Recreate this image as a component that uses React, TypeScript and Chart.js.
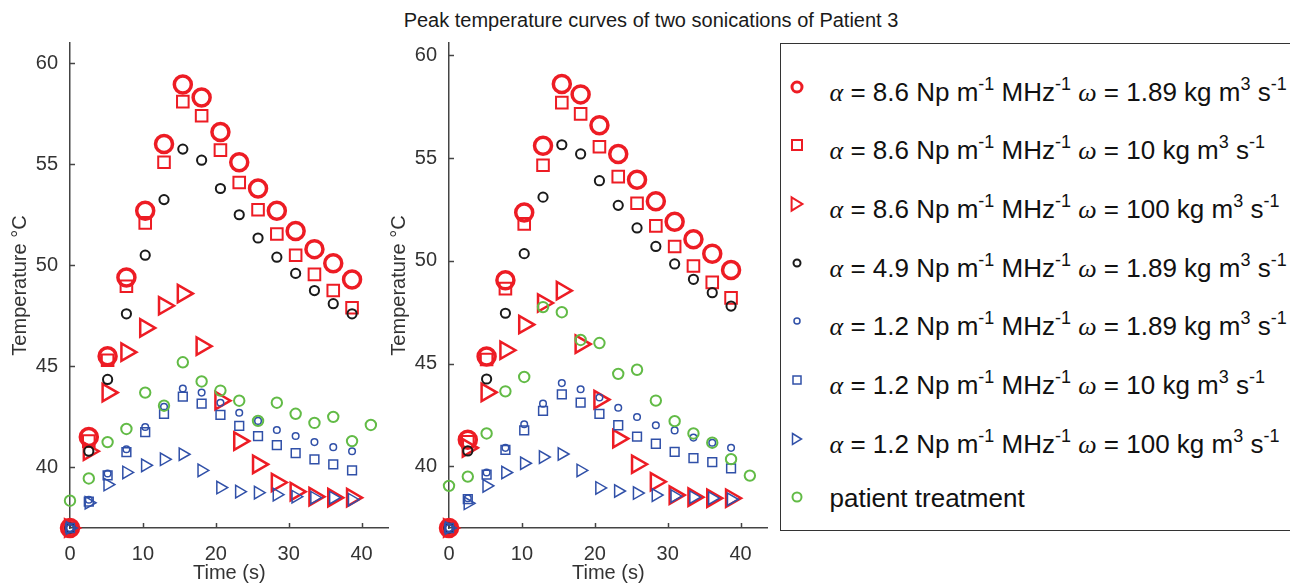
import React, { useEffect, useRef } from 'react';
import { Chart, registerables } from 'chart.js';

Chart.register(...registerables);

// ---------------- data ----------------
const times = [0, 2.58, 5.16, 7.74, 10.32, 12.9, 15.48, 18.06, 20.64, 23.22, 25.8, 28.38, 30.96, 33.54, 36.12, 38.7, 41.28];
const xTicks = [0, 10, 20, 30, 40];
const yTicks = [40, 45, 50, 55, 60];

const seriesLabels = [
  'α = 8.6 Np m-1 MHz-1 ω = 1.89 kg m3 s-1',
  'α = 8.6 Np m-1 MHz-1 ω = 10 kg m3 s-1',
  'α = 8.6 Np m-1 MHz-1 ω = 100 kg m3 s-1',
  'α = 4.9 Np m-1 MHz-1 ω = 1.89 kg m3 s-1',
  'α = 1.2 Np m-1 MHz-1 ω = 1.89 kg m3 s-1',
  'α = 1.2 Np m-1 MHz-1 ω = 10 kg m3 s-1',
  'α = 1.2 Np m-1 MHz-1 ω = 100 kg m3 s-1',
  'patient treatment',
];
const alphaValues = ['8.6', '8.6', '8.6', '4.9', '1.2', '1.2', '1.2'];
const omegaValues = ['1.89', '10', '100', '1.89', '1.89', '10', '100'];

// sonication 1 (left)
const leftRedCircle = [37.0, 41.5, 45.5, 49.4, 52.7, 56.0, 58.95, 58.3, 56.6, 55.1, 53.8, 52.7, 51.7, 50.8, 50.1, 49.3];
const leftRedSquare = [37.0, 41.3, 45.3, 48.96, 52.1, 55.1, 58.1, 57.4, 55.7, 54.1, 52.75, 51.55, 50.5, 49.55, 48.75, 47.9];
const leftRedTriangle = [37.0, 40.8, 43.7, 45.7, 46.9, 48.0, 48.6, 46.0, 43.3, 41.3, 40.15, 39.25, 38.8, 38.55, 38.5, 38.5];
const leftBlack = [37.0, 40.8, 44.35, 47.6, 50.5, 53.25, 55.75, 55.2, 53.8, 52.5, 51.35, 50.4, 49.6, 48.75, 48.1, 47.6];
const leftBlueCircle = [37.0, 38.4, 39.7, 40.9, 42.0, 43.0, 43.9, 43.7, 43.2, 42.7, 42.3, 41.85, 41.55, 41.25, 41.0, 40.8];
const leftBlueSquare = [37.0, 38.3, 39.6, 40.75, 41.75, 42.65, 43.5, 43.15, 42.6, 42.05, 41.55, 41.1, 40.7, 40.4, 40.15, 39.85];
const leftBlueTriangle = [37.0, 38.25, 39.15, 39.75, 40.1, 40.4, 40.65, 39.85, 39.0, 38.8, 38.75, 38.65, 38.55, 38.5, 38.5, 38.4];
const leftPatient = [38.35, 39.45, 41.25, 41.9, 43.7, 43.05, 45.2, 44.25, 43.8, 43.3, 42.3, 43.2, 42.65, 42.2, 42.5, 41.3, 42.1];

// sonication 2 (right)
const rightRedCircle = [37.0, 41.3, 45.35, 49.05, 52.35, 55.6, 58.6, 58.1, 56.6, 55.2, 53.95, 52.9, 51.9, 51.05, 50.35, 49.55];
const rightRedSquare = [37.0, 41.2, 45.2, 48.65, 51.8, 54.65, 57.7, 57.15, 55.55, 54.1, 52.8, 51.7, 50.7, 49.75, 48.95, 48.2];
const rightRedTriangle = [37.0, 40.9, 43.6, 45.65, 46.9, 47.95, 48.55, 45.95, 43.25, 41.35, 40.1, 39.25, 38.6, 38.5, 38.45, 38.45];
const rightBlack = [37.0, 40.75, 44.25, 47.45, 50.35, 53.1, 55.65, 55.2, 53.9, 52.7, 51.6, 50.7, 49.85, 49.1, 48.45, 47.8];
const rightBlueCircle = [37.0, 38.45, 39.7, 40.9, 42.05, 43.05, 44.05, 43.75, 43.35, 42.85, 42.4, 42.0, 41.75, 41.4, 41.15, 40.9];
const rightBlueSquare = [37.0, 38.4, 39.6, 40.8, 41.75, 42.7, 43.5, 43.1, 42.55, 42.0, 41.45, 41.1, 40.7, 40.4, 40.2, 39.9];
const rightBlueTriangle = [37.0, 38.2, 39.05, 39.7, 40.15, 40.45, 40.6, 39.8, 38.95, 38.8, 38.7, 38.6, 38.55, 38.5, 38.45, 38.4];
const rightPatient = [39.05, 39.5, 41.6, 43.65, 44.35, 47.75, 47.5, 46.15, 46.0, 44.5, 44.7, 43.2, 42.2, 41.6, 41.15, 40.35, 39.55];

const leftSeries = [leftRedCircle, leftRedSquare, leftRedTriangle, leftBlack, leftBlueCircle, leftBlueSquare, leftBlueTriangle, leftPatient];
const rightSeries = [rightRedCircle, rightRedSquare, rightRedTriangle, rightBlack, rightBlueCircle, rightBlueSquare, rightBlueTriangle, rightPatient];

// ---------------- styles ----------------
const RED = '#ED1C24';
const BLACK = '#1a1a1a';
const BLUE = '#3050A8';
const GREEN = '#62BB46';
const AXIS = '#444444';
const TEXT = '#333333';
const FONT = "'Liberation Sans', Arial, Helvetica, sans-serif";

type MarkerStyle = { color: string; shape: 'circle' | 'rect' | 'triangle'; radius: number; lw: number };
const markerStyles: MarkerStyle[] = [
  { color: RED, shape: 'circle', radius: 8.5, lw: 3.5 },
  { color: RED, shape: 'rect', radius: 8.2, lw: 2 },
  { color: RED, shape: 'triangle', radius: 10, lw: 2.5 },
  { color: BLACK, shape: 'circle', radius: 4.6, lw: 2 },
  { color: BLUE, shape: 'circle', radius: 3.3, lw: 1.5 },
  { color: BLUE, shape: 'rect', radius: 6.2, lw: 1.5 },
  { color: BLUE, shape: 'triangle', radius: 7.2, lw: 1.5 },
  { color: GREEN, shape: 'circle', radius: 5.2, lw: 2 },
];

const innerTicks = {
  id: 'innerTicks',
  beforeDatasetsDraw(chart: any) {
    const { ctx, chartArea, scales } = chart;
    ctx.save();
    ctx.strokeStyle = AXIS;
    ctx.lineWidth = 1.5;
    scales.x.ticks.forEach((t: any) => {
      const px = Math.round(scales.x.getPixelForValue(t.value)) + 0.5;
      ctx.beginPath();
      ctx.moveTo(px, chartArea.bottom);
      ctx.lineTo(px, chartArea.bottom - 5);
      ctx.stroke();
    });
    scales.y.ticks.forEach((t: any) => {
      const py = Math.round(scales.y.getPixelForValue(t.value)) + 0.5;
      ctx.beginPath();
      ctx.moveTo(chartArea.left, py);
      ctx.lineTo(chartArea.left + 5, py);
      ctx.stroke();
    });
    ctx.restore();
  },
};

function PlotChart({ series, yMax, left }: { series: number[][]; yMax: number; left: number }) {
  const ref = useRef<HTMLCanvasElement | null>(null);
  useEffect(() => {
    if (!ref.current) return;
    const datasets = series.map((vals, i) => {
      const st = markerStyles[i];
      return {
        label: seriesLabels[i],
        data: vals.map((y, j) => ({ x: times[j], y })),
        showLine: false,
        pointStyle: st.shape,
        pointRadius: st.radius,
        pointBorderWidth: st.lw,
        pointBorderColor: st.color,
        pointBackgroundColor: 'rgba(0,0,0,0)',
        pointRotation: st.shape === 'triangle' ? 90 : 0,
        clip: false as any,
        order: 20 - i,
      };
    });
    const chart = new Chart(ref.current, {
      type: 'scatter',
      data: { datasets },
      options: {
        responsive: false,
        animation: false,
        events: [],
        layout: { padding: { top: 43, right: 9, left: 0, bottom: 0 } },
        plugins: { legend: { display: false }, tooltip: { enabled: false }, title: { display: false } },
        scales: {
          x: {
            type: 'linear',
            min: 0,
            max: 43.7,
            afterBuildTicks: (s: any) => { s.ticks = xTicks.map((v) => ({ value: v })); },
            afterFit: (s: any) => { s.height = 57; },
            grid: { display: false, drawTicks: false },
            border: { display: true, color: AXIS, width: 1.5 },
            ticks: { color: TEXT, font: { size: 20, family: FONT }, padding: 14, maxRotation: 0 },
            title: { display: true, text: 'Time (s)', color: TEXT, font: { size: 20, family: FONT }, padding: { top: 0, bottom: 0 } },
          },
          y: {
            type: 'linear',
            min: 37,
            max: yMax,
            afterBuildTicks: (s: any) => { s.ticks = yTicks.map((v) => ({ value: v })); },
            afterFit: (s: any) => { s.width = 70; },
            grid: { display: false, drawTicks: false },
            border: { display: true, color: AXIS, width: 1.5 },
            ticks: { color: TEXT, font: { size: 20, family: FONT }, padding: 12 },
            title: { display: true, text: 'Temperature °C', color: TEXT, font: { size: 20, family: FONT }, padding: { top: 8, bottom: 0 } },
          },
        },
      },
      plugins: [innerTicks],
    } as any);
    return () => chart.destroy();
  }, [series, yMax]);
  return (
    <canvas
      ref={ref}
      width={401}
      height={585}
      style={{ position: 'absolute', left, top: 0, width: 401, height: 585 }}
    />
  );
}

const legendMarkers: { w: number; h: number }[] = [
  { w: 5, h: 3 }, { w: 10, h: 2 }, { w: 12, h: 2 }, { w: 3.5, h: 2 },
  { w: 3, h: 1.5 }, { w: 8, h: 1.5 }, { w: 10, h: 1.5 }, { w: 4.5, h: 2 },
];

function LegendMarker({ i }: { i: number }) {
  const st = markerStyles[i];
  const size = legendMarkers[i].w;
  const lw = legendMarkers[i].h;
  let shape;
  if (st.shape === 'circle') {
    shape = <circle cx={12} cy={12} r={size} fill="none" stroke={st.color} strokeWidth={lw} />;
  } else if (st.shape === 'rect') {
    shape = <rect x={12 - size / 2} y={12 - size / 2} width={size} height={size} fill="none" stroke={st.color} strokeWidth={lw} />;
  } else {
    const hw = size * 0.45;
    const hh = size * 0.55;
    shape = (
      <polygon
        points={`${12 - hw},${12 - hh} ${12 + hw},12 ${12 - hw},${12 + hh}`}
        fill="none"
        stroke={st.color}
        strokeWidth={lw}
        strokeLinejoin="miter"
      />
    );
  }
  return (
    <svg width={24} height={24} style={{ position: 'absolute', left: -12, top: -12 }}>
      {shape}
    </svg>
  );
}

const supStyle: React.CSSProperties = { fontSize: 18, position: 'relative', top: -11, lineHeight: 0 };
const greek: React.CSSProperties = { fontFamily: "'Liberation Serif', 'DejaVu Serif', serif", fontStyle: 'italic' };

function LegendText({ i }: { i: number }) {
  if (i >= alphaValues.length) return <span>{seriesLabels[i]}</span>;
  return (
    <span>
      <span style={greek}>α</span> = {alphaValues[i]} Np m<span style={supStyle}>-1</span> MHz<span style={supStyle}>-1</span>{' '}
      <span style={greek}>ω</span> = {omegaValues[i]} kg m<span style={supStyle}>3</span> s<span style={supStyle}>-1</span>
    </span>
  );
}

function Legend() {
  const rowCenters = seriesLabels.map((_, i) => 87 + 58.7 * i);
  return (
    <div
      style={{
        position: 'absolute',
        left: 780,
        top: 43,
        width: 530,
        height: 486,
        border: '1.5px solid #333',
        background: '#fff',
      }}
    >
      {rowCenters.map((cy, i) => {
        const base = cy + (i < 7 ? 14 : 10);
        return (
          <React.Fragment key={i}>
            <div style={{ position: 'absolute', left: 797 - 781.5, top: cy - 44.5, width: 0, height: 0 }}>
              <LegendMarker i={i} />
            </div>
            <div
              style={{
                position: 'absolute',
                left: 830 - 781.5,
                top: base - 44.5 - 22,
                fontSize: 26,
                lineHeight: '26px',
                fontFamily: FONT,
                color: '#111',
                whiteSpace: 'nowrap',
              }}
            >
              <LegendText i={i} />
            </div>
          </React.Fragment>
        );
      })}
    </div>
  );
}

export default function App() {
  return (
    <div style={{ position: 'fixed', left: 0, top: 0, width: 1290, height: 585, background: '#fff', overflow: 'hidden' }}>
      <div
        style={{
          position: 'absolute',
          left: 0,
          top: 8,
          width: 1302,
          textAlign: 'center',
          fontFamily: FONT,
          fontSize: 20,
          lineHeight: '24px',
          color: '#1a1a1a',
        }}
      >
        Peak temperature curves of two sonications of Patient 3
      </div>
      <PlotChart series={leftSeries} yMax={61} left={0} />
      <PlotChart series={rightSeries} yMax={60.6} left={379} />
      <Legend />
    </div>
  );
}
